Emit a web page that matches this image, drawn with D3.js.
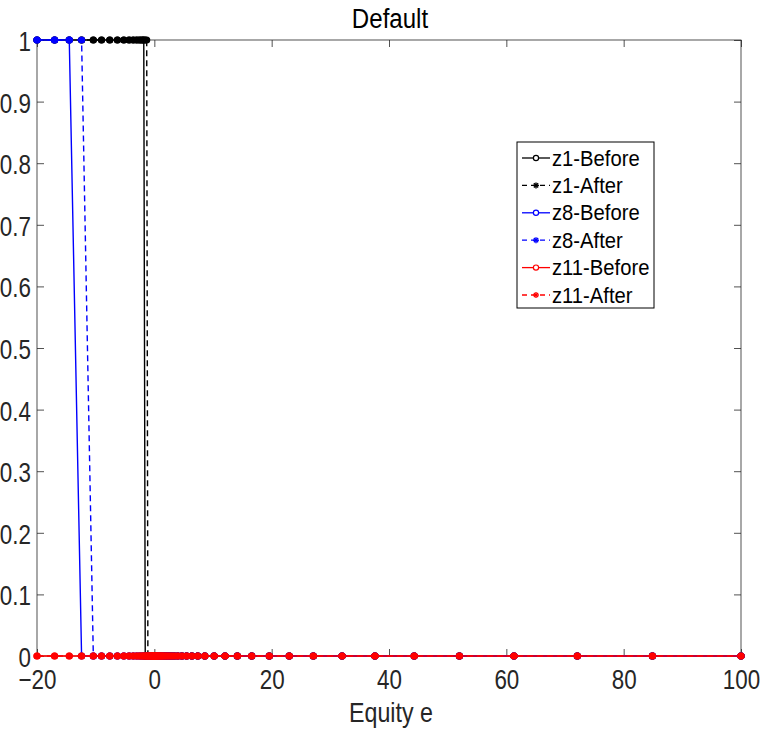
<!DOCTYPE html>
<html>
<head>
<meta charset="utf-8">
<script src="https://cdn.jsdelivr.net/npm/d3@7"></script>
<style>
  html, body { margin: 0; padding: 0; background: #fff; }
  svg { display: block; font-family: "Liberation Sans", Arial, sans-serif; }
</style>
</head>
<body>
<svg id="chart" width="761" height="729"></svg>
<script>
// Equity grid (non-uniform, denser around zero)
const equityGrid = [
  -20, -17.0, -14.5, -12.4, -10.4, -9.0, -7.6, -6.3, -5.2, -4.3,
  -3.6, -3.0, -2.5, -2.1, -1.8, -1.55, -1.3, -1.1, -0.9, -0.7,
  -0.5, -0.35, -0.2, -0.1, 0, 0.1, 0.2, 0.35, 0.5, 0.7,
  0.9, 1.15, 1.4, 1.7, 2.05, 2.45, 2.9, 3.4, 4.0, 4.7,
  5.5, 6.4, 7.4, 8.6, 10.2, 12.05, 14.15, 16.6, 19.6, 23.0,
  27.1, 32.0, 37.6, 44.3, 52.0, 61.3, 72.1, 84.9, 100
];

// Default indicator on the grid for each productivity state
const z1Before = [
  1,1,1,1,1,1,1,1,1,1,
  1,1,1,1,1,0,0,0,0,0,
  0,0,0,0,0,0,0,0,0,0,
  0,0,0,0,0,0,0,0,0,0,
  0,0,0,0,0,0,0,0,0,0,
  0,0,0,0,0,0,0,0,0
];
const z1After = [
  1,1,1,1,1,1,1,1,1,1,
  1,1,1,1,1,1,1,0,0,0,
  0,0,0,0,0,0,0,0,0,0,
  0,0,0,0,0,0,0,0,0,0,
  0,0,0,0,0,0,0,0,0,0,
  0,0,0,0,0,0,0,0,0
];
const z8Before = [
  1,1,1,0,0,0,0,0,0,0,
  0,0,0,0,0,0,0,0,0,0,
  0,0,0,0,0,0,0,0,0,0,
  0,0,0,0,0,0,0,0,0,0,
  0,0,0,0,0,0,0,0,0,0,
  0,0,0,0,0,0,0,0,0
];
const z8After = [
  1,1,1,1,0,0,0,0,0,0,
  0,0,0,0,0,0,0,0,0,0,
  0,0,0,0,0,0,0,0,0,0,
  0,0,0,0,0,0,0,0,0,0,
  0,0,0,0,0,0,0,0,0,0,
  0,0,0,0,0,0,0,0,0
];
const z11Before = [
  0,0,0,0,0,0,0,0,0,0,
  0,0,0,0,0,0,0,0,0,0,
  0,0,0,0,0,0,0,0,0,0,
  0,0,0,0,0,0,0,0,0,0,
  0,0,0,0,0,0,0,0,0,0,
  0,0,0,0,0,0,0,0,0
];
const z11After = [
  0,0,0,0,0,0,0,0,0,0,
  0,0,0,0,0,0,0,0,0,0,
  0,0,0,0,0,0,0,0,0,0,
  0,0,0,0,0,0,0,0,0,0,
  0,0,0,0,0,0,0,0,0,0,
  0,0,0,0,0,0,0,0,0
];

const seriesNames = ["z1-Before", "z1-After", "z8-Before", "z8-After", "z11-Before", "z11-After"];
const seriesValues = [z1Before, z1After, z8Before, z8After, z11Before, z11After];
const seriesColors = ["#000000", "#000000", "#0000ff", "#0000ff", "#ff0000", "#ff0000"];
const seriesDashed = [false, true, false, true, false, true];

const xTicks = [-20, 0, 20, 40, 60, 80, 100];
const yTicks = [0, 0.1, 0.2, 0.3, 0.4, 0.5, 0.6, 0.7, 0.8, 0.9, 1];

const titleText = "Default";
const xLabelText = "Equity e";

// Layout
const plot = { left: 37, right: 741, top: 40, bottom: 656 };
const axisColor = "#262626";
const tickLen = 7;
const labelFont = 28;      // large, slightly condensed labels
const labelSquash = 0.8;

const svg = d3.select("#chart");

const x = d3.scaleLinear().domain([-20, 100]).range([plot.left, plot.right]);
const y = d3.scaleLinear().domain([0, 1]).range([plot.bottom, plot.top]);

// Axes box with inward ticks on all four sides
const axes = svg.append("g");
axes.append("rect")
  .attr("x", plot.left).attr("y", plot.top)
  .attr("width", plot.right - plot.left).attr("height", plot.bottom - plot.top)
  .attr("fill", "none").attr("stroke", axisColor).attr("stroke-width", 0.8);

const xAxisB = d3.axisBottom(x).tickValues(xTicks).tickSizeInner(-tickLen).tickSizeOuter(0);
const xAxisT = d3.axisTop(x).tickValues(xTicks).tickSizeInner(-tickLen).tickSizeOuter(0).tickFormat("");
const yAxisL = d3.axisLeft(y).tickValues(yTicks).tickSizeInner(-tickLen).tickSizeOuter(0)
  .tickFormat(d => d3.format("~g")(d));
const yAxisR = d3.axisRight(y).tickValues(yTicks).tickSizeInner(-tickLen).tickSizeOuter(0).tickFormat("");

function styleAxis(sel) {
  sel.select(".domain").remove();
  sel.selectAll(".tick line").attr("stroke", axisColor).attr("stroke-width", 0.8);
  sel.selectAll(".tick text")
    .attr("fill", axisColor)
    .style("font-family", '"Liberation Sans", Arial, sans-serif')
    .style("font-size", labelFont + "px");
}

axes.append("g").attr("transform", `translate(0,${plot.bottom})`).call(xAxisB).call(styleAxis)
  .selectAll(".tick text")
  .attr("x", 0).attr("y", 0).attr("dy", null)
  .attr("transform", `translate(0,33) scale(${labelSquash},1)`);
axes.append("g").attr("transform", `translate(0,${plot.top})`).call(xAxisT).call(styleAxis);
axes.append("g").attr("transform", `translate(${plot.left},0)`).call(yAxisL).call(styleAxis)
  .selectAll(".tick text")
  .attr("x", 0).attr("y", 0).attr("dy", null)
  .attr("transform", `translate(-6,10.5) scale(${labelSquash},1)`);
axes.append("g").attr("transform", `translate(${plot.right},0)`).call(yAxisR).call(styleAxis);

// Series lines and markers, drawn in legend order
const line = d3.line().x(d => x(d[0])).y(d => y(d[1]));

seriesValues.forEach((vals, i) => {
  const pts = equityGrid.map((e, k) => [e, vals[k]]);
  const g = svg.append("g").attr("class", "series");
  g.append("path")
    .attr("d", line(pts))
    .attr("fill", "none")
    .attr("stroke", seriesColors[i])
    .attr("stroke-width", 1.4)
    .attr("stroke-dasharray", seriesDashed[i] ? "6,4" : null);
  g.selectAll("circle").data(pts).join("circle")
    .attr("cx", d => x(d[0]))
    .attr("cy", d => y(d[1]))
    .attr("r", 3.6)
    .attr("fill", seriesColors[i]);
});

// Title and axis label
svg.append("text")
  .attr("transform", `translate(${(plot.left + plot.right) / 2 + 1},28) scale(0.86,1)`)
  .attr("text-anchor", "middle")
  .attr("fill", "#000")
  .style("font-size", "28px")
  .text(titleText);

svg.append("text")
  .attr("transform", `translate(${(plot.left + plot.right) / 2 + 2},722) scale(0.86,1)`)
  .attr("text-anchor", "middle")
  .attr("fill", axisColor)
  .style("font-size", "27px")
  .text(xLabelText);

// Legend
const legend = { left: 517, top: 142, width: 137, height: 166, rowStart: 158, rowStep: 27.4 };
const lg = svg.append("g");
lg.append("rect")
  .attr("x", legend.left).attr("y", legend.top)
  .attr("width", legend.width).attr("height", legend.height)
  .attr("fill", "#fff").attr("stroke", "#000").attr("stroke-width", 1);

seriesNames.forEach((name, i) => {
  const cy = legend.rowStart + i * legend.rowStep;
  const x0 = legend.left + 5, x1 = legend.left + 33, xm = (x0 + x1) / 2;
  lg.append("line")
    .attr("x1", x0).attr("x2", x1).attr("y1", cy).attr("y2", cy)
    .attr("stroke", seriesColors[i]).attr("stroke-width", 1.3)
    .attr("stroke-dasharray", seriesDashed[i] ? "5,4" : null);
  if (seriesDashed[i]) {
    // asterisk marker
    const r = 3;
    const star = lg.append("g").attr("transform", `translate(${xm},${cy})`);
    [0, 45, 90, 135].forEach(a => {
      star.append("line")
        .attr("x1", -r).attr("x2", r).attr("y1", 0).attr("y2", 0)
        .attr("transform", `rotate(${a})`)
        .attr("stroke", seriesColors[i]).attr("stroke-width", 1.4);
    });
  } else {
    lg.append("circle")
      .attr("cx", xm).attr("cy", cy).attr("r", 2.6)
      .attr("fill", "#fff").attr("stroke", seriesColors[i]).attr("stroke-width", 1.2);
  }
  lg.append("text")
    .attr("transform", `translate(${legend.left + 35},${cy + 7.5}) scale(0.92,1)`)
    .attr("fill", "#000")
    .style("font-size", "22px")
    .text(name);
});
</script>
</body>
</html>
